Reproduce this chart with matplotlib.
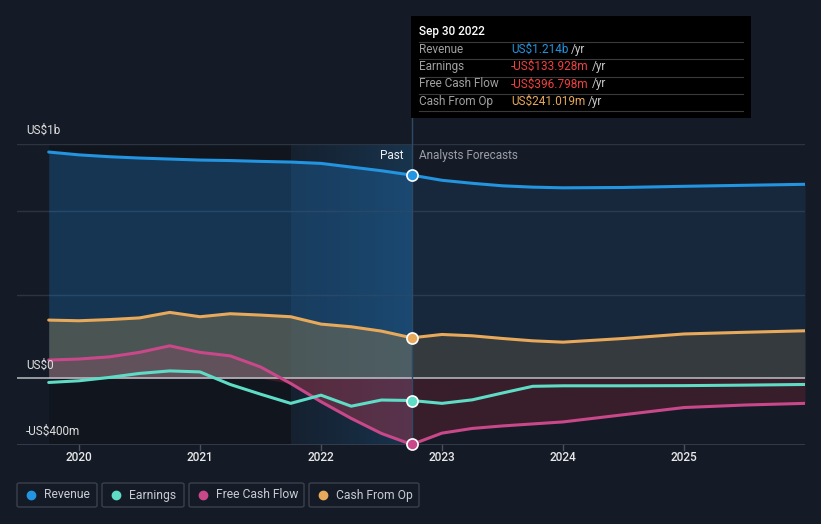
import numpy as np
import matplotlib
matplotlib.use("Agg")
import matplotlib.pyplot as plt
from matplotlib.patches import Rectangle, FancyBboxPatch
from matplotlib.lines import Line2D

plt.rcParams['font.family'] = ['Roboto', 'DejaVu Sans']

# ---- data (US$ m), dates as decimal years ----
past_dates = [2019.75, 2020.0, 2020.25, 2020.5, 2020.75, 2021.0, 2021.25,
              2021.5, 2021.75, 2022.0, 2022.25, 2022.5, 2022.75]
revenue_past = [1352, 1335, 1324, 1316, 1310, 1304, 1301, 1296, 1292, 1284, 1262, 1240, 1214]
earnings_past = [-26, -16, 4, 28, 43, 37, -38, -96, -151, -102, -168, -131, -134]
fcf_past = [108, 114, 127, 154, 193, 154, 133, 67, -32, -141, -241, -331, -397]
cfo_past = [347, 343, 350, 360, 393, 367, 385, 377, 367, 323, 307, 281, 241]

fc_dates = [2022.75, 2023.0, 2023.25, 2023.5, 2023.75, 2024.0, 2024.5, 2025.0, 2025.5, 2026.0]
revenue_fc = [1214, 1183, 1165, 1150, 1142, 1138, 1140, 1147, 1153, 1159]
earnings_fc = [-134, -151, -130, -89, -49, -46, -46, -45, -42, -38]
fcf_fc = [-397, -329, -301, -286, -274, -262, -219, -176, -161, -151]
cfo_fc = [241, 261, 253, 237, 223, 215, 237, 264, 274, 283]

year_ticks = [2020, 2021, 2022, 2023, 2024, 2025]
tooltip_rows = [("Revenue", "US$1.214b", "#2394df"),
                ("Earnings", "-US$133.928m", "#f0413f"),
                ("Free Cash Flow", "-US$396.798m", "#f0413f"),
                ("Cash From Op", "US$241.019m", "#e8a95a")]

C_REV = "#2394df"
C_EARN = "#5fdcc6"
C_FCF = "#c8488a"
C_CFO = "#e8a95a"
BG = "#151b26"

W, H = 821, 524
fig = plt.figure(figsize=(W / 100, H / 100), dpi=100, facecolor=BG)


def fx(px):
    return px / W


def fy(py):
    return 1 - py / H


ax = fig.add_axes([fx(17), fy(445), fx(805) - fx(17), fy(144) - fy(445)])
ax.set_facecolor(BG)
ax.set_xlim(2019.488, 2026.0)
ax.set_ylim(-400, 1400)
for s in ax.spines.values():
    s.set_visible(False)
ax.set_yticks([])
ax.set_xticks([])

# past dark panel & highlight
ax.axvspan(2019.75, 2021.75, color="#0b0f16", alpha=0.45, zorder=0, lw=0)
grad = np.linspace(0, 1, 200).reshape(1, -1)
ax.imshow(grad, extent=[2021.75, 2022.75, -400, 1400], aspect="auto",
          cmap=matplotlib.colors.LinearSegmentedColormap.from_list(
              "g", [(0.10, 0.35, 0.55, 0.10), (0.12, 0.42, 0.65, 0.32)]),
          zorder=0.5, interpolation="bilinear")

# gridlines
for v in [1400, 1000, 500]:
    ax.axhline(v, color="#2c3442", lw=1, zorder=1)
ax.axhline(-400, color="#3a4150", lw=1.2, zorder=1)

pd_ = np.array(past_dates)
fd_ = np.array(fc_dates)

# fills
ax.fill_between(pd_, revenue_past, 0, color="#1f6bab", alpha=0.38, lw=0, zorder=2)
ax.fill_between(fd_, revenue_fc, 0, color="#1f5a8f", alpha=0.22, lw=0, zorder=2)
ax.fill_between(pd_, cfo_past, 0, color="#8a7a55", alpha=0.45, lw=0, zorder=2.2)
ax.fill_between(fd_, cfo_fc, 0, color="#5a5040", alpha=0.45, lw=0, zorder=2.2)
fp = np.array(fcf_past)
ax.fill_between(pd_, fp, 0, color="#a04a70", alpha=0.28, lw=0, zorder=2.4)
ax.fill_between(pd_, np.minimum(fp, 0), 0, color="#8a2a3a", alpha=0.35, lw=0, zorder=2.4)
ax.fill_between(fd_, fcf_fc, 0, color="#6a2030", alpha=0.42, lw=0, zorder=2.4)

# zero line
ax.axhline(0, color="#c9c9cf", lw=1.2, alpha=0.85, zorder=3)

# lines
kw = dict(lw=2.2, solid_capstyle="round", solid_joinstyle="round", zorder=4)
ax.plot(pd_, revenue_past, color=C_REV, **kw)
ax.plot(fd_, revenue_fc, color=C_REV, **kw)
ax.plot(pd_, cfo_past, color=C_CFO, **kw)
ax.plot(fd_, cfo_fc, color=C_CFO, **kw)
ax.plot(pd_, fcf_past, color=C_FCF, **kw)
ax.plot(fd_, fcf_fc, color=C_FCF, **kw)
ax.plot(pd_, earnings_past, color=C_EARN, **kw)
ax.plot(fd_, earnings_fc, color=C_EARN, **kw)

# vertical marker line
ax.axvline(2022.75, ymin=0, ymax=(445 - 118) / 301, color="#2d4a66", lw=1,
           zorder=3.5, clip_on=False)

# markers at Sep 30 2022
for val, c in [(revenue_past[-1], C_REV), (cfo_past[-1], C_CFO),
               (earnings_past[-1], C_EARN), (fcf_past[-1], C_FCF)]:
    ax.plot([2022.75], [val], "o", ms=8, mfc=c, mec="white", mew=1.2, zorder=6, clip_on=False)

# x ticks
for yr in year_ticks:
    ax.plot([yr, yr], [-400, -430], color="#4a505c", lw=1, clip_on=False, zorder=1)
    ax.text(yr, -475, str(yr), ha="center", va="center", color="#e8e8e8",
            fontsize=8.5, fontweight="medium")

# y labels
fig.text(fx(26), fy(130), "US$1b", color="#e0e0e0", fontsize=8.5, va="center")
fig.text(fx(26), fy(365), "US$0", color="#e0e0e0", fontsize=8.5, va="center")
fig.text(fx(26), fy(431), "-US$400m", color="#e0e0e0", fontsize=8.5, va="center")

fig.text(fx(403), fy(156), "Past", color="#f0f0f0", fontsize=8.5, va="center", ha="right")
fig.text(fx(419), fy(156), "Analysts Forecasts", color="#9a9ea6", fontsize=8.5,
         va="center", ha="left")

# tooltip
fig.patches.append(Rectangle((fx(411), fy(118)), fx(751) - fx(411), fy(16) - fy(118),
                             transform=fig.transFigure, facecolor="#000000",
                             edgecolor="none", zorder=10))
fig.text(fx(419), fy(31), "Sep 30 2022", color="white", fontsize=8.5, va="center",
         zorder=11, fontweight="medium")
sep_ys = [41.5, 59, 76.5, 93.5, 111]
for yy in sep_ys:
    fig.lines.append(Line2D([fx(419), fx(743)], [fy(yy), fy(yy)], transform=fig.transFigure,
                            color="#3a3a3a", lw=0.8, zorder=11))
row_ys = [49.5, 66.5, 84, 101]
for (lab, val, col), yy in zip(tooltip_rows, row_ys):
    fig.text(fx(419), fy(yy), lab, color="#a0a0a0", fontsize=8.5, va="center", zorder=11)
    t = fig.text(fx(511), fy(yy), val, color=col, fontsize=8.5, va="center", zorder=11)
    fig.canvas.draw()
    bb = t.get_window_extent()
    fig.text(bb.x1 / W + fx(3), fy(yy), "/yr", color="#c8c8c8", fontsize=8.5,
             va="center", zorder=11)

# legend
legend_items = [("Revenue", C_REV, 17, 97), ("Earnings", C_EARN, 102, 184),
                ("Free Cash Flow", C_FCF, 189, 304), ("Cash From Op", C_CFO, 309, 419)]
for lab, col, x0, x1 in legend_items:
    fig.patches.append(FancyBboxPatch((fx(x0), fy(507)), fx(x1) - fx(x0), fy(483) - fy(507),
                                      boxstyle="round,pad=0,rounding_size=0.003",
                                      transform=fig.transFigure, facecolor="none",
                                      edgecolor="#3a404c", lw=1))
    fig.lines.append(Line2D([fx(x0 + 14)], [fy(495)], marker="o", ms=6, color=col,
                            transform=fig.transFigure, lw=0))
    fig.text(fx(x0 + 27), fy(495), lab, color="#c8ccd2", fontsize=8.7, va="center")

fig.savefig("out.png", dpi=100, facecolor=BG)
